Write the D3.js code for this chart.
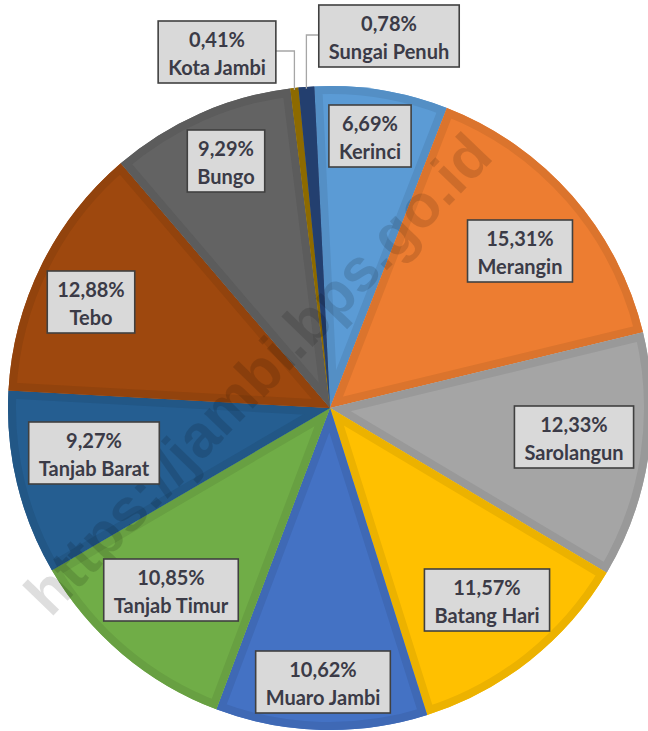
<!DOCTYPE html>
<html><head><meta charset="utf-8">
<script src="https://cdn.jsdelivr.net/npm/d3@7"></script>
<style>html,body{margin:0;padding:0;background:#fff;}svg{display:block;}</style>
</head><body>
<svg id="chart" width="648" height="731"></svg>
<script>
const categories = ["Kerinci","Merangin","Sarolangun","Batang Hari","Muaro Jambi","Tanjab Timur","Tanjab Barat","Tebo","Bungo","Kota Jambi","Sungai Penuh"];
const values = [6.69,15.31,12.33,11.57,10.62,10.85,9.27,12.88,9.29,0.41,0.78];
const valueLabels = ["6,69%","15,31%","12,33%","11,57%","10,62%","10,85%","9,27%","12,88%","9,29%","0,41%","0,78%"];
const colors = ["#5B9BD5","#ED7D31","#A5A5A5","#FFC000","#4472C4","#70AD47","#255E91","#9E480E","#636363","#997300","#264478"];
const watermark = "https://jambi.bps.go.id";

// layout: label centres (px) and leader flags
const labelPos = [[370,136],[520,251],[574,437],[487,600],[323,682],[171,590],[94,453],[91,302],[226,161],[217,52],[389,36]];
const leader = [false,false,false,false,false,false,false,false,false,true,true];

const svg = d3.select("#chart");
const cx = 330, cy = 408, R = 322;
const startA = -2.8 * Math.PI / 180;

const pie = d3.pie().sort(null).value(d => d)
  .startAngle(startA).endAngle(startA + 2 * Math.PI);
const arcs = pie(values);
const arc = d3.arc().innerRadius(0).outerRadius(R);

const defs = svg.append("defs");
const g = svg.append("g").attr("transform", `translate(${cx},${cy})`);

arcs.forEach((a, i) => {
  const id = "clip" + i;
  defs.append("clipPath").attr("id", id).append("path").attr("d", arc(a));
  const dark = d3.color(colors[i]).darker(0.22).formatHex();
  g.append("path").attr("d", arc(a)).attr("fill", colors[i]);
  g.append("path").attr("d", arc(a)).attr("fill", "none")
    .attr("stroke", dark).attr("stroke-width", 16).attr("stroke-linejoin", "miter")
    .attr("clip-path", `url(#${id})`);
});

// watermark
svg.append("text")
  .attr("transform", "translate(258,374) rotate(-46)")
  .attr("text-anchor", "middle").attr("dominant-baseline", "central")
  .attr("font-family", "Liberation Sans, Arial, sans-serif")
  .attr("font-weight", "bold").attr("font-size", 60)
  .attr("fill", "#000").attr("fill-opacity", 0.13)
  .text(watermark);

// leader lines
arcs.forEach((a, i) => {
  if (!leader[i]) return;
  const m = (a.startAngle + a.endAngle) / 2;
  const px = cx + R * Math.sin(m), py = cy - R * Math.cos(m) + 2;
  const [lx] = labelPos[i];
  const side = lx < px ? 1 : -1;
  svg.append("path").attr("class", "leader" + i)
    .attr("fill", "none").attr("stroke", "#a6a6a6").attr("stroke-width", 1.3)
    .datum({px, py, side});
});

// labels
arcs.forEach((a, i) => {
  const [lx, ly] = labelPos[i];
  const lg = svg.append("g").attr("transform", `translate(${lx},${ly})`);
  const rect = lg.append("rect").attr("fill", "#D9D9D9").attr("stroke", "#404040").attr("stroke-width", 1.6);
  const t = lg.append("text").attr("text-anchor", "middle")
    .attr("font-family", "Lato, sans-serif").attr("font-weight", 700)
    .attr("font-size", 20).attr("fill", "#3b3b47");
  t.append("tspan").attr("x", 0).attr("y", -5).text(valueLabels[i]);
  t.append("tspan").attr("x", 0).attr("y", 23).text(categories[i]);
  const w = Math.max(...t.selectAll("tspan").nodes().map(n => n.getComputedTextLength())) + 20;
  const h = 62;
  rect.attr("x", -w / 2).attr("y", -h / 2).attr("width", w).attr("height", h);
  if (leader[i]) {
    const d = svg.select(".leader" + i).datum();
    const ex = lx + d.side * w / 2;
    svg.select(".leader" + i).attr("d", `M${ex},${ly - 1}H${d.px}V${d.py}`);
  }
});
</script>
</body></html>
